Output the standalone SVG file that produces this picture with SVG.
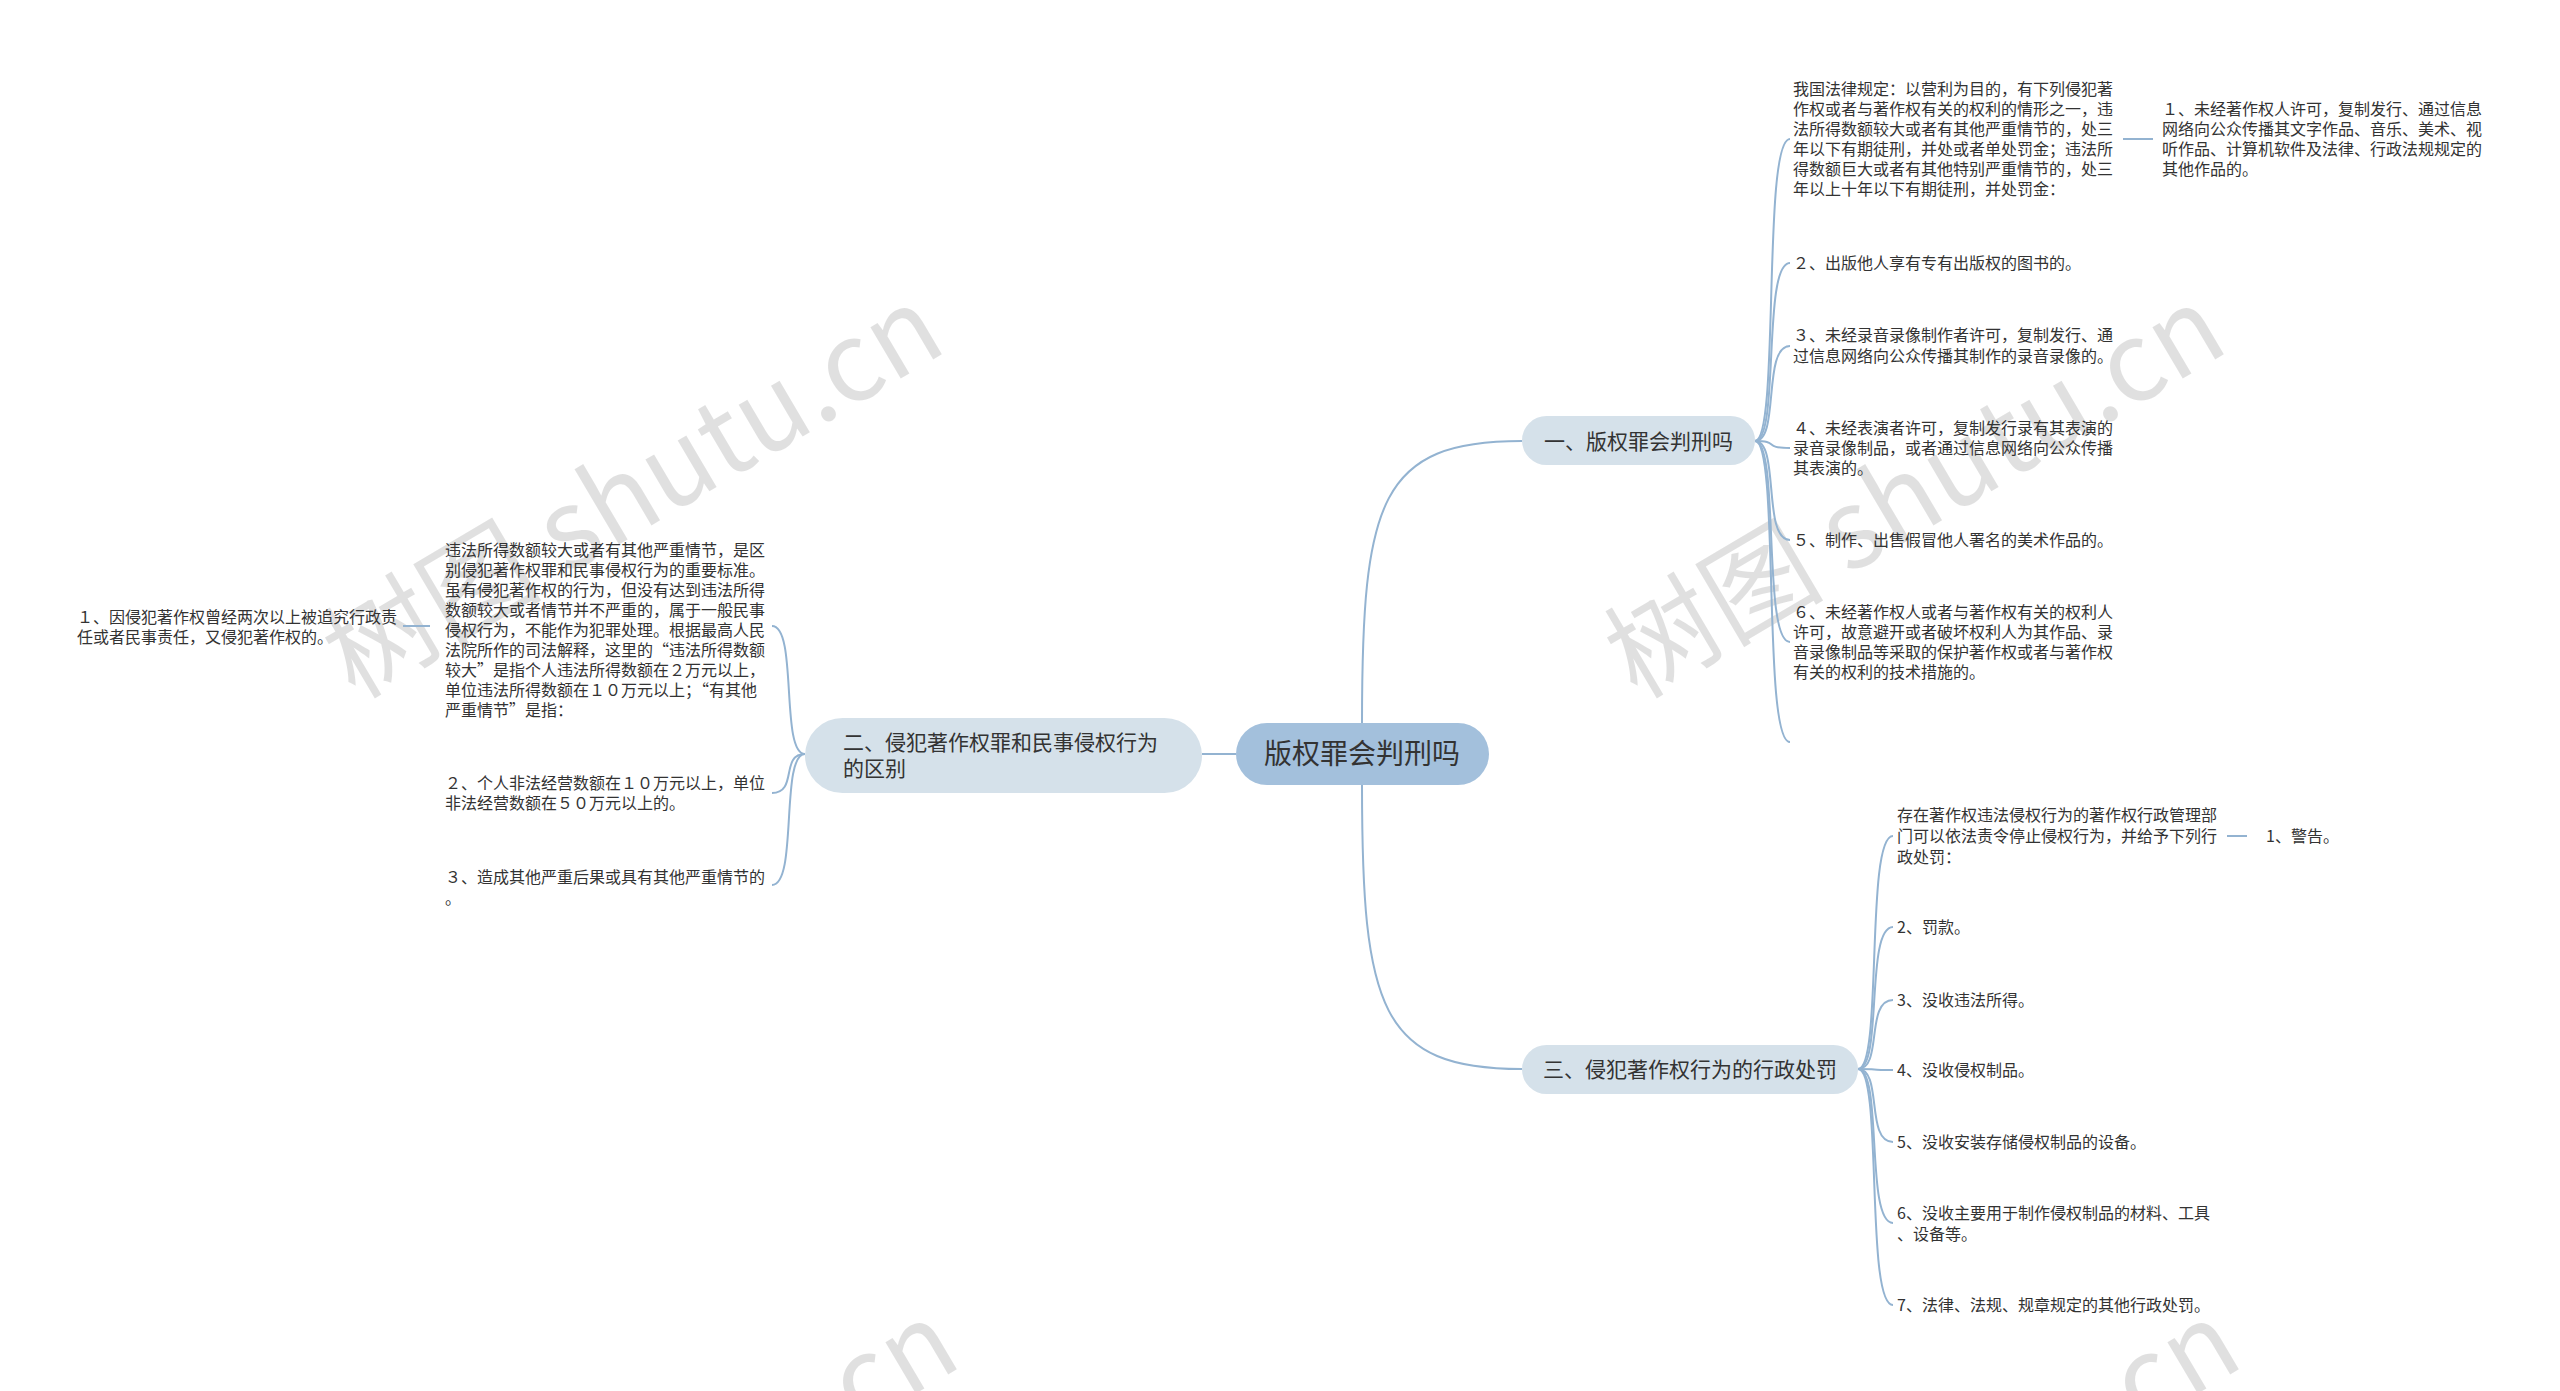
<svg xmlns="http://www.w3.org/2000/svg" width="2560" height="1391" viewBox="0 0 2560 1391">
<style>
.t{font-family:"Noto Sans CJK SC","Noto Sans",sans-serif;fill:#333;}
.s{font-size:16px;}
.m{font-size:21px;}
.r{font-size:28px;}
.wm{font-family:"Noto Sans CJK SC","Liberation Serif",serif;font-size:110px;fill:#000;fill-opacity:0.12;}
.ln{fill:none;stroke:#93b3d1;stroke-width:2;}
</style>
<rect width="2560" height="1391" fill="#fff"/>
<g id="watermarks">
<text class="wm" transform="translate(355,700) rotate(-30.5)">树图 shutu.cn</text>
<text class="wm" transform="translate(1637,700) rotate(-30.5)">树图 shutu.cn</text>
<text class="wm" transform="translate(370,1715) rotate(-30.5)">树图 shutu.cn</text>
<text class="wm" transform="translate(1652,1715) rotate(-30.5)">树图 shutu.cn</text>
</g>
<g id="connectors">
<path class="ln" d="M1362,723 C1362,500 1380,441 1522,441"/>
<path class="ln" d="M1362,785 C1362,1008 1380,1069 1522,1069"/>
<path class="ln" d="M1202,754 L1236,754"/>
<path class="ln" d="M1755,441 C1780,441 1762,139 1790,139"/>
<path class="ln" d="M1755,441 C1780,441 1762,263 1790,263"/>
<path class="ln" d="M1755,441 C1780,441 1762,346 1790,346"/>
<path class="ln" d="M1755,441 C1780,441 1762,448 1790,448"/>
<path class="ln" d="M1755,441 C1780,441 1762,540 1790,540"/>
<path class="ln" d="M1755,441 C1780,441 1762,642 1790,642"/>
<path class="ln" d="M1755,441 C1780,441 1762,742 1790,742"/>
<path class="ln" d="M2123,139 L2153,139"/>
<path class="ln" d="M1858,1069 C1883,1069 1865,836 1893,836"/>
<path class="ln" d="M1858,1069 C1883,1069 1865,927 1893,927"/>
<path class="ln" d="M1858,1069 C1883,1069 1865,1000 1893,1000"/>
<path class="ln" d="M1858,1069 C1883,1069 1865,1070 1893,1070"/>
<path class="ln" d="M1858,1069 C1883,1069 1865,1142 1893,1142"/>
<path class="ln" d="M1858,1069 C1883,1069 1865,1223 1893,1223"/>
<path class="ln" d="M1858,1069 C1883,1069 1865,1305 1893,1305"/>
<path class="ln" d="M2227,836 L2247,836"/>
<path class="ln" d="M805,754 C780,754 798,626 772,626"/>
<path class="ln" d="M805,754 C780,754 798,793 772,793"/>
<path class="ln" d="M805,754 C780,754 798,885 772,885"/>
<path class="ln" d="M403,626 L430,626"/>
</g>
<g id="root">
<rect x="1236" y="723" width="253" height="62" rx="31" fill="#a3c0dc"/>
<text class="t r" x="1362" y="764" text-anchor="middle">版权罪会判刑吗</text>
</g>
<g id="n1">
<rect x="1522" y="416" width="233" height="49" rx="24.5" fill="#d5e1ea"/>
<text class="t m" x="1638.5" y="448.5" text-anchor="middle">一、版权罪会判刑吗</text>
</g>
<g id="n2">
<rect x="805" y="718" width="397" height="75" rx="37.5" fill="#d5e1ea"/>
<text class="t m" x="843" y="749.5">二、侵犯著作权罪和民事侵权行为</text>
<text class="t m" x="843" y="776">的区别</text>
</g>
<g id="n3">
<rect x="1522" y="1045" width="336" height="49" rx="24.5" fill="#d5e1ea"/>
<text class="t m" x="1690" y="1076.5" text-anchor="middle">三、侵犯著作权行为的行政处罚</text>
</g>
<g id="n1c1">
<text class="t s" x="1793" y="95">我国法律规定：以营利为目的，有下列侵犯著</text>
<text class="t s" x="1793" y="115">作权或者与著作权有关的权利的情形之一，违</text>
<text class="t s" x="1793" y="135">法所得数额较大或者有其他严重情节的，处三</text>
<text class="t s" x="1793" y="155">年以下有期徒刑，并处或者单处罚金；违法所</text>
<text class="t s" x="1793" y="175">得数额巨大或者有其他特别严重情节的，处三</text>
<text class="t s" x="1793" y="195">年以上十年以下有期徒刑，并处罚金：</text>
</g>
<g id="n1c1a">
<text class="t s" x="2162" y="115">１、未经著作权人许可，复制发行、通过信息</text>
<text class="t s" x="2162" y="135">网络向公众传播其文字作品、音乐、美术、视</text>
<text class="t s" x="2162" y="155">听作品、计算机软件及法律、行政法规规定的</text>
<text class="t s" x="2162" y="175">其他作品的。</text>
</g>
<g id="n1c2">
<text class="t s" x="1793" y="269">２、出版他人享有专有出版权的图书的。</text>
</g>
<g id="n1c3">
<text class="t s" x="1793" y="341">３、未经录音录像制作者许可，复制发行、通</text>
<text class="t s" x="1793" y="362">过信息网络向公众传播其制作的录音录像的。</text>
</g>
<g id="n1c4">
<text class="t s" x="1793" y="434">４、未经表演者许可，复制发行录有其表演的</text>
<text class="t s" x="1793" y="454">录音录像制品，或者通过信息网络向公众传播</text>
<text class="t s" x="1793" y="474">其表演的。</text>
</g>
<g id="n1c5">
<text class="t s" x="1793" y="546">５、制作、出售假冒他人署名的美术作品的。</text>
</g>
<g id="n1c6">
<text class="t s" x="1793" y="618">６、未经著作权人或者与著作权有关的权利人</text>
<text class="t s" x="1793" y="638">许可，故意避开或者破坏权利人为其作品、录</text>
<text class="t s" x="1793" y="658">音录像制品等采取的保护著作权或者与著作权</text>
<text class="t s" x="1793" y="678">有关的权利的技术措施的。</text>
</g>
<g id="n2c1">
<text class="t s" x="445" y="556">违法所得数额较大或者有其他严重情节，是区</text>
<text class="t s" x="445" y="576">别侵犯著作权罪和民事侵权行为的重要标准。</text>
<text class="t s" x="445" y="596">虽有侵犯著作权的行为，但没有达到违法所得</text>
<text class="t s" x="445" y="616">数额较大或者情节并不严重的，属于一般民事</text>
<text class="t s" x="445" y="636">侵权行为，不能作为犯罪处理。根据最高人民</text>
<text class="t s" x="445" y="656">法院所作的司法解释，这里的“违法所得数额</text>
<text class="t s" x="445" y="676">较大”是指个人违法所得数额在２万元以上，</text>
<text class="t s" x="445" y="696">单位违法所得数额在１０万元以上；“有其他</text>
<text class="t s" x="445" y="716">严重情节”是指：</text>
</g>
<g id="n2c1a">
<text class="t s" x="77" y="623">１、因侵犯著作权曾经两次以上被追究行政责</text>
<text class="t s" x="77" y="643">任或者民事责任，又侵犯著作权的。</text>
</g>
<g id="n2c2">
<text class="t s" x="445" y="789">２、个人非法经营数额在１０万元以上，单位</text>
<text class="t s" x="445" y="809">非法经营数额在５０万元以上的。</text>
</g>
<g id="n2c3">
<text class="t s" x="445" y="883">３、造成其他严重后果或具有其他严重情节的</text>
<text class="t s" x="445" y="904">。</text>
</g>
<g id="n3c1">
<text class="t s" x="1897" y="821">存在著作权违法侵权行为的著作权行政管理部</text>
<text class="t s" x="1897" y="842">门可以依法责令停止侵权行为，并给予下列行</text>
<text class="t s" x="1897" y="863">政处罚：</text>
</g>
<g id="n3c1a">
<text class="t s" x="2266" y="842">1、警告。</text>
</g>
<g id="n3c2"><text class="t s" x="1897" y="933">2、罚款。</text></g>
<g id="n3c3"><text class="t s" x="1897" y="1006">3、没收违法所得。</text></g>
<g id="n3c4"><text class="t s" x="1897" y="1076">4、没收侵权制品。</text></g>
<g id="n3c5"><text class="t s" x="1897" y="1148">5、没收安装存储侵权制品的设备。</text></g>
<g id="n3c6">
<text class="t s" x="1897" y="1219">6、没收主要用于制作侵权制品的材料、工具</text>
<text class="t s" x="1897" y="1240">、设备等。</text>
</g>
<g id="n3c7"><text class="t s" x="1897" y="1311">7、法律、法规、规章规定的其他行政处罚。</text></g>
</svg>
